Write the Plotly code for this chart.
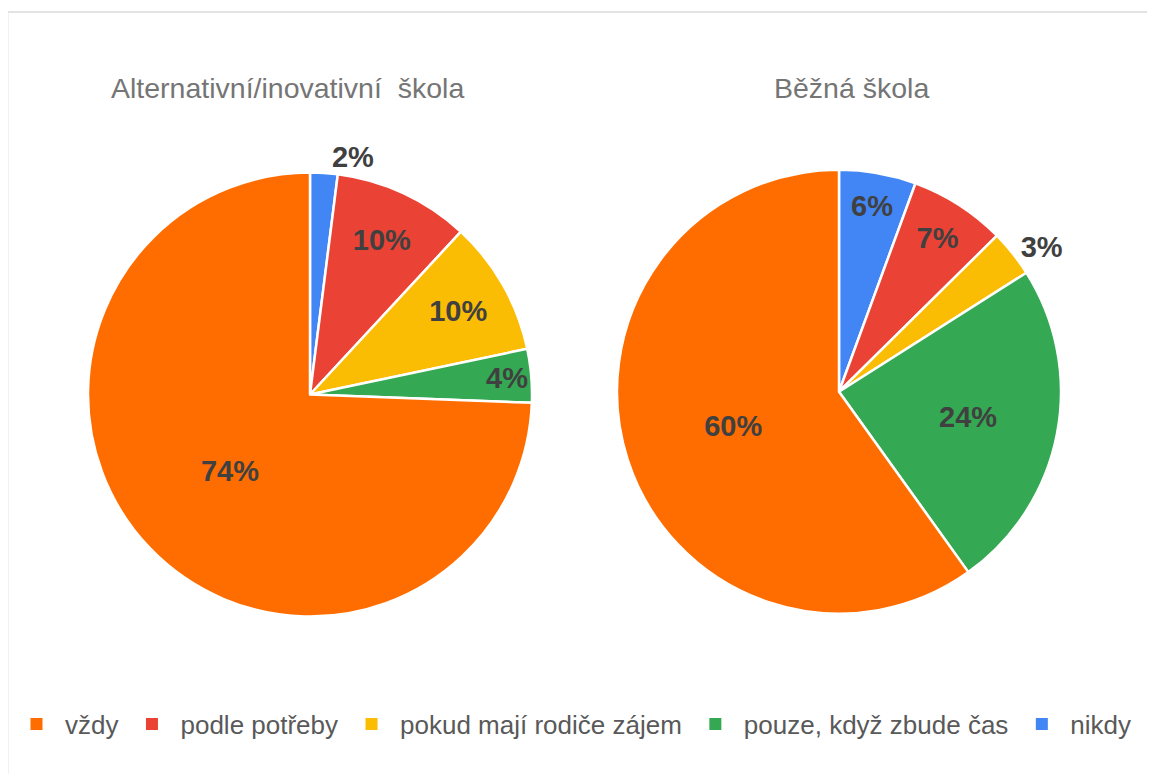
import plotly.graph_objects as go

# Data (slice order: clockwise from 12 o'clock)
categories = ["nikdy", "podle potřeby", "pokud mají rodiče zájem", "pouze, když zbude čas", "vždy"]
alt_values = [2.0, 9.9, 9.8, 3.9, 74.4]
bezna_values = [5.6, 7.0, 3.4, 24.1, 59.9]
titles = ["Alternativní/inovativní\u00a0 škola", "Běžná škola"]
colors = ["#4285F4", "#EA4335", "#FBBC04", "#34A853", "#FF6D01"]
legend_order = ["vždy", "podle potřeby", "pokud mají rodiče zájem", "pouze, když zbude čas", "nikdy"]
alt_textpos = ["outside", "inside", "inside", "inside", "inside"]
bezna_textpos = ["inside", "inside", "outside", "inside", "inside"]

W, H = 1139, 766

def px(x):
    return x / W

def py(y):
    return 1 - y / H

FONT = "Liberation Sans, Arial, sans-serif"
label_font = dict(family=FONT, size=29, color="#404040", weight="bold")
color_of = dict(zip(categories, colors))

fig = go.Figure()

# legend-only carrier (defines legend order), zero-size domain
fig.add_trace(go.Pie(
    labels=legend_order,
    values=[alt_values[categories.index(c)] for c in legend_order],
    sort=False,
    domain=dict(x=[0, 0.00001], y=[0, 0.00001]),
    marker=dict(colors=[color_of[c] for c in legend_order], line=dict(width=0)),
    textinfo="none",
    hoverinfo="skip",
    showlegend=True,
))

domains = [
    dict(x=[px(80), px(524)], y=[py(608.5), py(164.5)]),
    dict(x=[px(609), px(1053)], y=[py(605.7), py(161.7)]),
]
for vals, dom, tpos in zip([alt_values, bezna_values], domains, [alt_textpos, bezna_textpos]):
    fig.add_trace(go.Pie(
        labels=categories,
        values=vals,
        sort=False,
        direction="clockwise",
        rotation=0,
        domain=dom,
        marker=dict(colors=colors, line=dict(color="white", width=2.5)),
        texttemplate="%{percent:.0%}",
        textposition=tpos,
        insidetextorientation="horizontal",
        insidetextfont=label_font,
        outsidetextfont=label_font,
        hoverinfo="label+percent",
        showlegend=False,
    ))

title_font = dict(family=FONT, size=28.5, color="#757575")
annotations = [
    dict(text=titles[0], x=px(279.5), y=py(80), xref="paper", yref="paper",
         showarrow=False, xanchor="center", yanchor="middle", font=title_font),
    dict(text=titles[1], x=px(843.5), y=py(80), xref="paper", yref="paper",
         showarrow=False, xanchor="center", yanchor="middle", font=title_font),
]

fig.update_layout(
    width=W, height=H,
    margin=dict(l=0, r=0, t=0, b=0),
    paper_bgcolor="white",
    plot_bgcolor="white",
    annotations=annotations,
    uniformtext=dict(minsize=29, mode="show"),
    legend=dict(
        orientation="h",
        x=0, xanchor="left",
        y=py(716), yanchor="middle",
        font=dict(family=FONT, size=26, color="#595959"),
        itemwidth=47,
        bgcolor="rgba(0,0,0,0)",
    ),
    shapes=[
        dict(type="line", xref="paper", yref="paper", x0=px(-0.5), x1=1.05, y0=py(4), y1=py(4),
             line=dict(color="#e3e3e3", width=2)),
        dict(type="line", xref="paper", yref="paper", x0=px(-0.5), x1=px(-0.5), y0=py(4), y1=-0.05,
             line=dict(color="#e3e3e3", width=2)),
    ],
)

fig.write_html("out.html")
